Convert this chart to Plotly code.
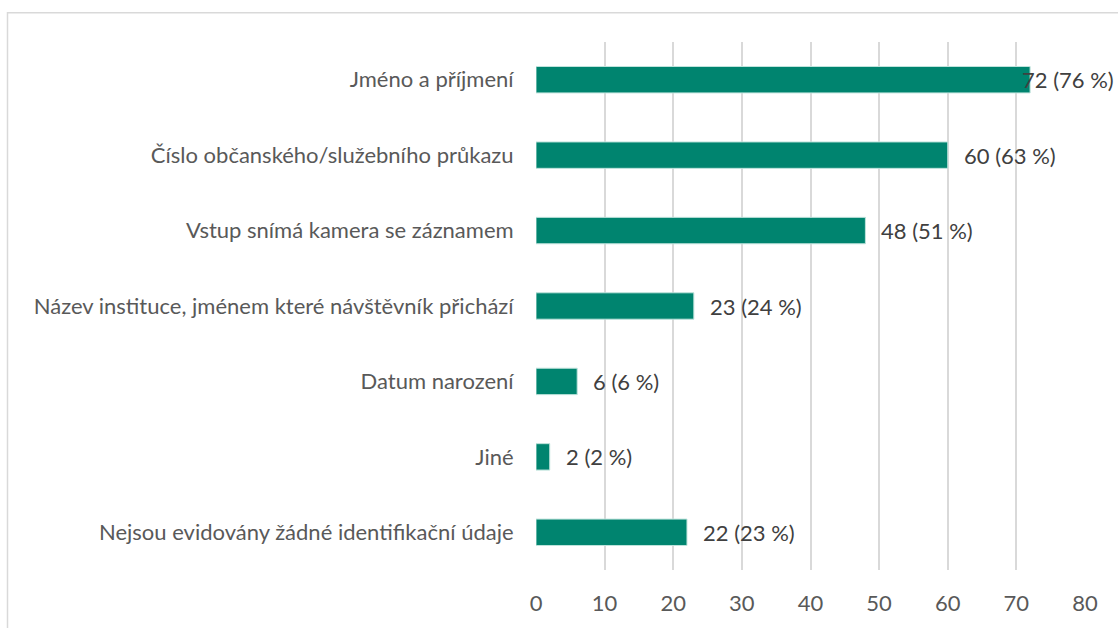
import plotly.graph_objects as go

categories = [
    "Jméno a příjmení",
    "Číslo občanského/služebního průkazu",
    "Vstup snímá kamera se záznamem",
    "Název instituce, jménem které návštěvník přichází",
    "Datum narození",
    "Jiné",
    "Nejsou evidovány žádné identifikační údaje",
]
counts = [72, 60, 48, 23, 6, 2, 22]
percents = [76, 63, 51, 24, 6, 2, 23]
x_ticks = [0, 10, 20, 30, 40, 50, 60, 70, 80]

W, H = 1118, 628
L, R, T, B = 536, 33, 42, 55
pw, ph = W - L - R, H - T - B

FONT = "Lato, 'Open Sans', sans-serif"
FS = 22

fig = go.Figure()
fig.add_trace(go.Bar(
    y=categories,
    x=counts,
    orientation="h",
    marker=dict(color="#00846F", line=dict(color="#BFE3DC", width=1)),
    hoverinfo="x+y",
))

for i, (c, v, p) in enumerate(zip(categories, counts, percents)):
    label = f"{v} ({p} %)"
    if i == 0:
        # the longest bar's label is pushed against the chart's right edge
        fig.add_annotation(
            x=(W - 2 - L) / pw, y=c, xref="paper", yref="y",
            text=label, showarrow=False, xanchor="right",
            font=dict(family=FONT, size=FS, color="#404040"),
        )
    else:
        fig.add_annotation(
            x=v, y=c, xref="x", yref="y",
            text=label, showarrow=False, xanchor="left", xshift=14,
            font=dict(family=FONT, size=FS, color="#404040"),
        )

# chart border (light grey), partially cut by the image edges
fig.add_shape(
    type="rect", xref="paper", yref="paper",
    x0=(7.5 - L) / pw, x1=(W + 20 - L) / pw,
    y0=-(B + 20) / ph, y1=(H - B - 12.5) / ph,
    line=dict(color="#D9D9D9", width=1.5),
    fillcolor="rgba(0,0,0,0)", layer="below",
)

fig.update_layout(
    width=W, height=H,
    margin=dict(l=L, r=R, t=T, b=B, pad=0),
    paper_bgcolor="white", plot_bgcolor="white",
    showlegend=False,
    bargap=0.65,
    font=dict(family=FONT, size=FS, color="#595959"),
    xaxis=dict(
        range=[0, 80], tickvals=x_ticks, ticktext=[str(t) for t in x_ticks],
        showgrid=True, gridcolor="#D9D9D9", gridwidth=1.5,
        zeroline=False, showline=False,
        ticks="outside", ticklen=14, tickcolor="rgba(0,0,0,0)",
        tickfont=dict(family=FONT, size=FS, color="#595959"),
        fixedrange=True,
    ),
    yaxis=dict(
        categoryorder="array", categoryarray=categories[::-1],
        showgrid=False, zeroline=False, showline=False,
        ticks="outside", ticklen=17, tickcolor="rgba(0,0,0,0)",
        tickfont=dict(family=FONT, size=FS, color="#595959"),
        fixedrange=True,
    ),
)

fig.write_html(
    "out.html",
    config={"displayModeBar": False},
    post_script="document.body.style.margin='0px';document.body.style.overflow='hidden';",
)
